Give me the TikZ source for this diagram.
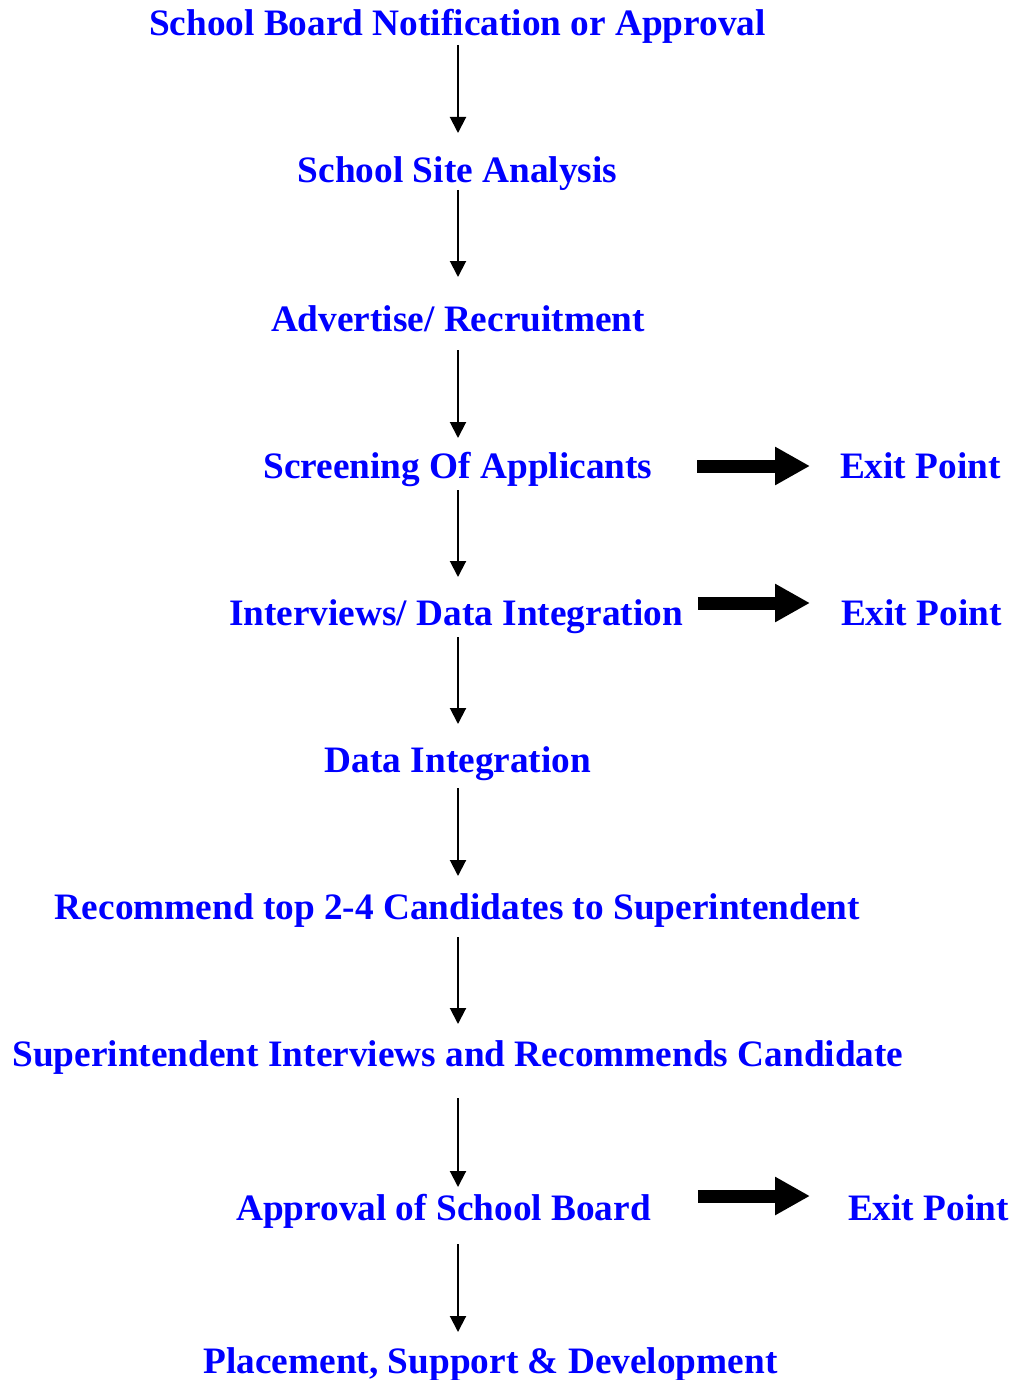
\documentclass[tikz,border=0pt]{standalone}
\usepackage{fontspec}
\setmainfont{Liberation Serif}
\usetikzlibrary{arrows.meta,calc}
\tikzset{
  lbl/.style={inner sep=0pt, outer sep=0pt, text=blue, font=\fontsize{37.3}{40}\selectfont\bfseries},
  thin/.style={line width=2pt, -{Triangle[width=16pt,length=16pt]}},
  fat/.style={line width=13pt, -{Triangle[width=36pt,length=35pt]}}
}
\begin{document}
\begin{tikzpicture}[x=1pt,y=-1pt]
\useasboundingbox (0,0) rectangle (1016,1380);
\node[lbl,anchor=base] (n1) at (457.5,36) {School Board Notification or Approval};
\node[lbl,anchor=base] (n2) at (457.5,183) {School Site Analysis};
\node[lbl,anchor=base] (n3) at (458,331) {Advertise/ Recruitment};
\node[lbl,anchor=base] (n4) at (458,478) {Screening Of Applicants};
\node[lbl,anchor=base] (n5) at (456,625) {Interviews/ Data Integration};
\node[lbl,anchor=base] (n6) at (458,772) {Data Integration};
\node[lbl,anchor=base] (n7) at (457.5,919) {Recommend top 2-4 Candidates to Superintendent};
\node[lbl,anchor=base] (n8) at (458,1066) {Superintendent Interviews and Recommends Candidate};
\node[lbl,anchor=base] (n9) at (443.5,1220) {Approval of School Board};
\node[lbl,anchor=base] (n10) at (490.5,1373) {Placement, Support \& Development};
\node[lbl,anchor=base west] (e4) at (840,478) {Exit Point};
\node[lbl,anchor=base west] (e5) at (841,625) {Exit Point};
\node[lbl,anchor=base west] (e9) at (848,1220) {Exit Point};
\draw[thin] ($(n1.base)+(0.5,9)$) -- ($(n2.base)+(0.5,-50)$);
\draw[thin] ($(n2.base)+(0.5,7)$) -- ($(n3.base)+(0,-54)$);
\draw[thin] ($(n3.base)+(0,19)$) -- ($(n4.base)+(0,-40)$);
\draw[thin] ($(n4.base)+(0,12)$) -- ($(n5.base)+(2,-48)$);
\draw[thin] ($(n5.base)+(2,12)$) -- ($(n6.base)+(0,-48)$);
\draw[thin] ($(n6.base)+(0,16)$) -- ($(n7.base)+(0.5,-43)$);
\draw[thin] ($(n7.base)+(0.5,18)$) -- ($(n8.base)+(0,-42)$);
\draw[thin] ($(n8.base)+(0,32)$) -- ($(n9.base)+(14.5,-33)$);
\draw[thin] ($(n9.base)+(14.5,24)$) -- ($(n10.base)+(-32.5,-41)$);
\draw[fat] ($(n4.base east)+(45,-12)$) -- ($(e4.base west)+(-30,-12)$);
\draw[fat] ($(n5.base east)+(15,-22)$) -- ($(e5.base west)+(-31,-22)$);
\draw[fat] ($(n9.base east)+(47,-24)$) -- ($(e9.base west)+(-38,-24)$);
\end{tikzpicture}
\end{document}
